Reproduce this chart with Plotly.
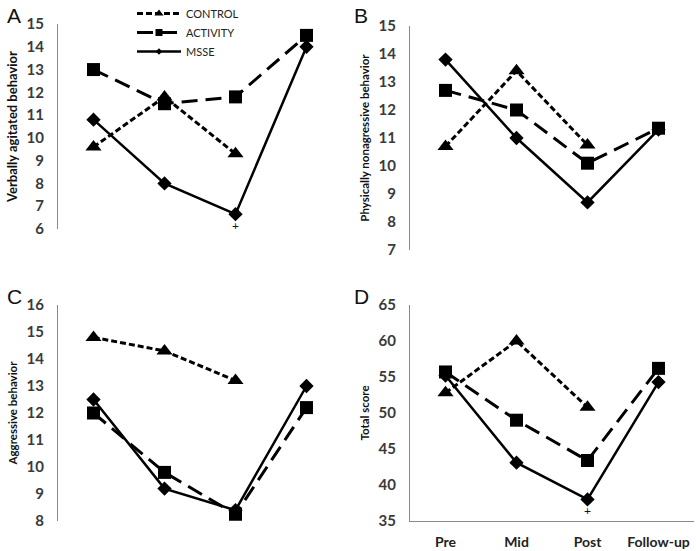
import plotly.graph_objects as go

phases = ["Pre", "Mid", "Post", "Follow-up"]
groups = ["CONTROL", "ACTIVITY", "MSSE"]

A_control = [9.6, 11.8, 9.3, None]
A_activity = [13.0, 11.5, 11.8, 14.5]
A_msse = [10.8, 8.0, 6.65, 14.0]

B_control = [10.7, 13.4, 10.75, None]
B_activity = [12.7, 12.0, 10.1, 11.35]
B_msse = [13.8, 11.0, 8.7, 11.3]

C_control = [14.8, 14.3, 13.2, None]
C_activity = [12.0, 9.8, 8.25, 12.2]
C_msse = [12.5, 9.2, 8.4, 13.0]

D_control = [52.8, 60.0, 50.8, None]
D_activity = [55.7, 49.0, 43.4, 56.2]
D_msse = [55.2, 43.1, 38.0, 54.3]

panels = [
    ("A", "Verbally agitated behavior", [A_control, A_activity, A_msse], [6, 15], 1),
    ("B", "Physically nonagressive behavior", [B_control, B_activity, B_msse], [7, 15], 1),
    ("C", "Aggressive behavior", [C_control, C_activity, C_msse], [8, 16], 1),
    ("D", "Total score", [D_control, D_activity, D_msse], [35, 65], 5),
]

W, H = 696, 551
xdom_left = [58 / W, 342 / W]
xdom_right = [410 / W, 694 / W]
ydoms = {
    "A": [1 - 229 / H, 1 - 24 / H],
    "B": [1 - 250 / H, 1 - 26 / H],
    "C": [1 - 521 / H, 1 - 305 / H],
    "D": [1 - 521 / H, 1 - 305 / H],
}
xdoms = {"A": xdom_left, "B": xdom_right, "C": xdom_left, "D": xdom_right}

lines = {
    "CONTROL": dict(color="black", width=3, dash="6px,3px"),
    "ACTIVITY": dict(color="black", width=3, dash="16px,8px"),
    "MSSE": dict(color="black", width=2.5),
}
symbols = {"CONTROL": "triangle-up", "ACTIVITY": "square", "MSSE": "diamond"}
sizes = {"CONTROL": 14, "ACTIVITY": 13, "MSSE": 11}
legend_sizes = {"CONTROL": 8, "ACTIVITY": 7, "MSSE": 5}

tickfont = dict(family="Lato", size=15, color="#3a3a3a", weight="bold")
fig = go.Figure()
layout = dict(width=W, height=H, margin=dict(l=0, r=0, t=0, b=0, autoexpand=False),
              paper_bgcolor="white", plot_bgcolor="white", annotations=[])

for i, (label, title, series, yr, dt) in enumerate(panels):
    n = "" if i == 0 else str(i + 1)
    for g, vals in zip(groups, series):
        fig.add_trace(go.Scatter(
            x=phases, y=vals, mode="lines+markers", name=g,
            showlegend=False, xaxis="x" + n, yaxis="y" + n, cliponaxis=False,
            line=lines[g], marker=dict(symbol=symbols[g], size=sizes[g], color="black")))
    is_d = label == "D"
    layout["xaxis" + n] = dict(
        domain=xdoms[label], anchor="y" + n, type="category", automargin=False,
        range=[-0.5, 3.5], showgrid=False, zeroline=False,
        showline=is_d, linecolor="#8a8a8a", linewidth=1,
        showticklabels=is_d, ticks="", ticklabelstandoff=8,
        tickfont=dict(family="Lato", size=14, color="#222", weight="bold"))
    layout["yaxis" + n] = dict(
        domain=ydoms[label], anchor="x" + n, range=yr, dtick=dt, automargin=False,
        showgrid=False, zeroline=False, showline=True, linecolor="#8a8a8a",
        linewidth=1, ticks="", tickfont=tickfont, ticklabelstandoff=10,
        title=dict(text="<b>" + title + "</b>",
                   font=dict(family="Lato", size=13 if label == "A" else 11.5, color="#111"),
                   standoff=6))
    px = 5 if label in ("A", "C") else 352
    py = 2 if label in ("A", "B") else 283
    layout["annotations"].append(dict(
        text=label, xref="paper", yref="paper", x=px / W, y=1 - py / H,
        xanchor="left", yanchor="top", showarrow=False,
        font=dict(family="Liberation Sans", size=21, color="#111")))

# legend-only entries (small markers like the original legend)
for g in groups:
    fig.add_trace(go.Scatter(
        x=[None], y=[None], mode="lines+markers", name=g, showlegend=True,
        xaxis="x", yaxis="y", line=lines[g],
        marker=dict(symbol=symbols[g], size=legend_sizes[g], color="black")))

# significance markers
layout["annotations"].append(dict(text="+", xref="x", yref="y", x="Post", y=A_msse[2],
                                  yshift=-11, showarrow=False,
                                  font=dict(family="Lato", size=12, color="#111")))
layout["annotations"].append(dict(text="+", xref="x4", yref="y4", x="Post", y=D_msse[2],
                                  yshift=-11, showarrow=False,
                                  font=dict(family="Lato", size=12, color="#111")))

layout["legend"] = dict(x=132 / W, y=1 + 1 / H, xanchor="left", yanchor="top",
                        bgcolor="rgba(0,0,0,0)", itemsizing="trace",
                        font=dict(family="Lato", size=11, color="#222"),
                        tracegroupgap=0, itemwidth=44)
fig.update_layout(**layout)
fig.write_html("out.html", config={"displayModeBar": False},
               post_script="document.body.style.margin='0';")
